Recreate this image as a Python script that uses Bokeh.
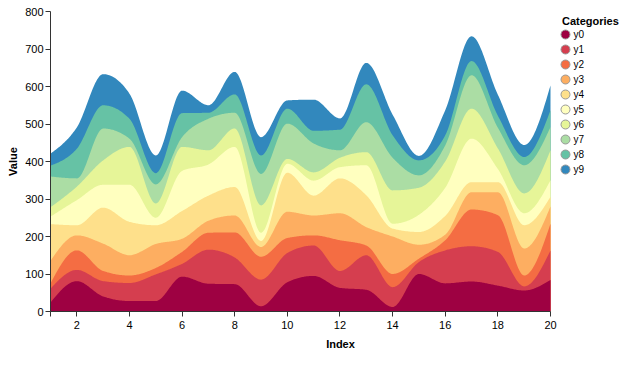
import numpy as np
from bokeh.plotting import figure
from bokeh.models import Range1d, FixedTicker, ColumnDataSource, LinearAxis
from bokeh.embed import file_html
from bokeh.resources import INLINE
from bokeh.core.properties import value

# ---------------- data ----------------
index = list(range(1, 21))
categories = ["y0", "y1", "y2", "y3", "y4", "y5", "y6", "y7", "y8", "y9"]
y0 = [24, 81, 40, 28, 28, 93, 74, 73, 14, 78, 95, 63, 58, 12, 100, 75, 80, 69, 56, 84]
y1 = [37, 30, 41, 48, 71, 34, 91, 71, 71, 78, 81, 45, 92, 53, 32, 88, 94, 90, 11, 79]
y2 = [14, 52, 27, 20, 17, 32, 45, 67, 61, 40, 27, 82, 26, 35, 9, 27, 98, 98, 29, 71]
y3 = [60, 40, 73, 54, 64, 35, 32, 45, 26, 70, 53, 72, 49, 100, 37, 15, 46, 61, 72, 46]
y4 = [98, 27, 96, 89, 50, 74, 67, 76, 16, 104, 53, 93, 85, 21, 34, 50, 27, 27, 62, 26]
y5 = [20, 67, 61, 99, 20, 107, 83, 107, 22, 24, 40, 30, 80, 13, 46, 75, 116, 35, 32, 44]
y6 = [25, 36, 65, 101, 38, 64, 38, 49, 73, 13, 22, 25, 35, 89, 72, 70, 80, 55, 53, 80]
y7 = [82, 22, 85, 22, 51, 26, 84, 42, 84, 94, 77, 20, 80, 87, 33, 43, 89, 55, 75, 62]
y8 = [29, 79, 62, 53, 30, 64, 16, 49, 49, 40, 34, 55, 101, 60, 40, 27, 38, 32, 22, 45]
y9 = [32, 57, 83, 67, 47, 60, 20, 60, 49, 22, 83, 30, 57, 55, 12, 67, 66, 56, 32, 66]
series = [y0, y1, y2, y3, y4, y5, y6, y7, y8, y9]
colors = ["#9e0142", "#d53e4f", "#f46d43", "#fdae61", "#fee08b",
          "#ffffbf", "#e6f598", "#abdda4", "#66c2a5", "#3288bd"]
x_ticks = [1, 2, 4, 6, 8, 10, 12, 14, 16, 18, 20]
y_ticks = [0, 100, 200, 300, 400, 500, 600, 700, 800]
legend_title = "Categories"

FONT = "Liberation Sans"
PLOT_W, PLOT_H = 500, 300      # data area in pixels
FRAME_W = 580                  # data area + room for the legend


# monotone-x curve (as d3.curveMonotoneX) used to draw the stack boundaries
def monotone(xs, ys, n=30):
    xs = np.asarray(xs, float)
    ys = np.asarray(ys, float)
    h = np.diff(xs)
    s = np.diff(ys) / h
    m = np.zeros_like(ys)
    for i in range(1, len(xs) - 1):
        h0, h1 = h[i - 1], h[i]
        s0, s1 = s[i - 1], s[i]
        p_ = (s0 * h1 + s1 * h0) / (h0 + h1)
        m[i] = (np.sign(s0) + np.sign(s1)) * min(abs(s0), abs(s1), 0.5 * abs(p_))
    m[0] = (3 * s[0] - m[1]) / 2
    m[-1] = (3 * s[-1] - m[-2]) / 2
    out_x, out_y = [], []
    t = np.linspace(0, 1, n, endpoint=False)
    h00 = 2 * t**3 - 3 * t**2 + 1
    h10 = t**3 - 2 * t**2 + t
    h01 = -2 * t**3 + 3 * t**2
    h11 = t**3 - t**2
    for i in range(len(xs) - 1):
        out_x.extend(xs[i] + t * h[i])
        out_y.extend(h00 * ys[i] + h10 * h[i] * m[i] + h01 * ys[i + 1] + h11 * h[i] * m[i + 1])
    out_x.append(xs[-1])
    out_y.append(ys[-1])
    return np.array(out_x), np.array(out_y)


x0, x1 = index[0], index[-1]
x_end = x0 + (x1 - x0) * FRAME_W / PLOT_W

p = figure(frame_width=FRAME_W, frame_height=PLOT_H,
           x_range=Range1d(x0, x_end), y_range=Range1d(y_ticks[0], y_ticks[-1]),
           output_backend="svg", toolbar_location=None, x_axis_location=None,
           min_border_left=50, min_border_right=0, min_border_top=11, min_border_bottom=40)
p.outline_line_color = None
p.xgrid.grid_line_color = None
p.ygrid.grid_line_color = None
p.extra_x_ranges = {"px": Range1d(0, FRAME_W)}
p.extra_y_ranges = {"px": Range1d(PLOT_H, 0)}

cum = np.cumsum(np.array(series, float), axis=0)
data = {}
for k, name in enumerate(categories):
    xd, yd = monotone(index, cum[k])
    data["x"] = xd
    data[name] = yd
src = ColumnDataSource(data)
for k in range(len(categories) - 1, -1, -1):
    p.varea(x="x", y1=0, y2=categories[k], source=src, fill_color=colors[k], fill_alpha=1)

xaxis = LinearAxis(bounds=(x0, x1))
p.add_layout(xaxis, "below")

for ax in (xaxis, p.yaxis[0]):
    ax.axis_line_color = "#333"
    ax.major_tick_line_color = "#333"
    ax.minor_tick_line_color = None
    ax.major_tick_in = 0
    ax.major_tick_out = 5
    ax.major_label_text_font = FONT
    ax.major_label_text_font_size = "11px"
    ax.major_label_text_color = "#000"
    ax.axis_label_text_font = FONT
    ax.axis_label_text_font_size = "11px"
    ax.axis_label_text_font_style = "bold"
    ax.axis_label_text_color = "#000"

xaxis.ticker = FixedTicker(ticks=x_ticks)
xaxis.major_label_overrides = {1: ""}
xaxis.axis_label = "Index"
xaxis.major_label_standoff = 4
xaxis.axis_label_standoff = 6
p.yaxis.ticker = FixedTicker(ticks=y_ticks)
p.yaxis.axis_label = "Value"
p.yaxis.major_label_standoff = 2
p.yaxis.axis_label_standoff = 3

# legend (positions in pixels relative to the data area)
n = len(categories)
rows_y = [23 + 15 * i for i in range(n)]
lsrc = ColumnDataSource(dict(x=[515] * n, tx=[523] * n, y=rows_y, c=colors, t=categories))
p.scatter("x", "y", source=lsrc, size=9, marker="circle", fill_color="c",
          line_color="#999", line_width=1, x_range_name="px", y_range_name="px")
p.text("tx", "y", text="t", source=lsrc, text_font=value(FONT), text_font_size=value("10px"),
       text_baseline="middle", text_align="left", text_color="#000",
       x_range_name="px", y_range_name="px")
p.text(x=[511.5], y=[9.5], text=[legend_title], text_font=value(FONT),
       text_font_size=value("11px"), text_font_style="bold", text_baseline="alphabetic",
       text_align="left", text_color="#000", x_range_name="px", y_range_name="px")

open("out.html", "w").write(file_html(p, INLINE))
